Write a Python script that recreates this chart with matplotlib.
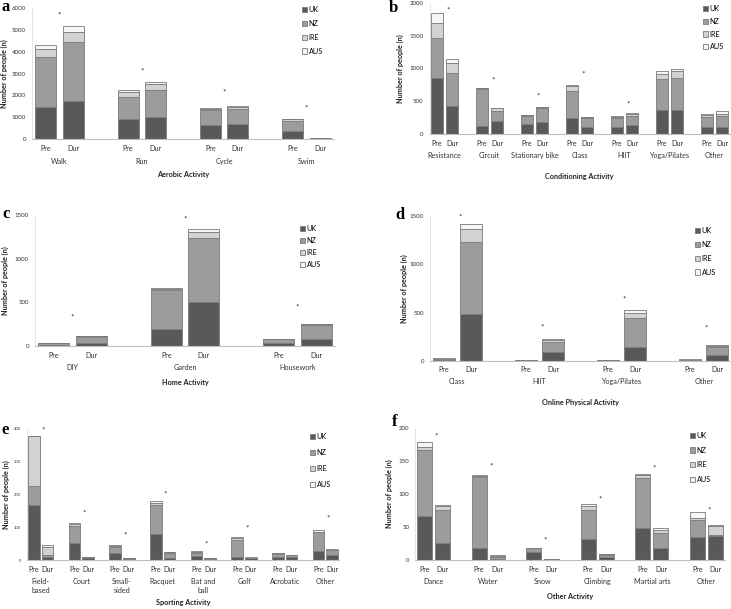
import matplotlib
matplotlib.use("Agg")
import matplotlib.pyplot as plt
from matplotlib.patches import Patch

W, H = 731, 609
plt.rcParams['font.family'] = ['Lato', 'DejaVu Sans']

countries = ["UK", "NZ", "IRE", "AUS"]
colors = ["#595959", "#9c9c9c", "#d2d2d2", "#f6f6f6"]
edge = "#7a7a7a"
phases = ["Pre", "Dur"]

# ---- panel a: Aerobic activity ----
a_cats = ["Walk", "Run", "Cycle", "Swim"]
a_pre = {"UK": [1470, 930, 650, 380], "NZ": [2290, 1010, 680, 450],
         "IRE": [370, 210, 50, 70], "AUS": [190, 100, 30, 30]}
a_dur = {"UK": [1740, 1020, 680, 20], "NZ": [2710, 1230, 700, 10],
         "IRE": [450, 260, 70, 5], "AUS": [280, 110, 70, 5]}
a_star = [5680, 3115, 2150, 1420]

# ---- panel b: Conditioning activity ----
b_cats = ["Resistance", "Circuit", "Stationary bike", "Class", "HIIT", "Yoga/Pilates", "Other"]
b_pre = {"UK": [860, 120, 150, 250, 100, 370, 100], "NZ": [610, 570, 120, 400, 150, 470, 160],
         "IRE": [230, 10, 15, 90, 15, 70, 30], "AUS": [150, 5, 5, 10, 5, 50, 20]}
b_dur = {"UK": [420, 200, 185, 100, 130, 370, 100], "NZ": [510, 150, 215, 150, 150, 490, 180],
         "IRE": [160, 40, 10, 8, 20, 100, 20], "AUS": [60, 10, 5, 2, 20, 30, 50]}
b_star = [1893, 824, 580, 916, 458, None, None]

# ---- panel c: Home activity ----
c_cats = ["DIY", "Garden", "Housework"]
c_pre = {"UK": [10, 200, 35], "NZ": [20, 440, 40], "IRE": [3, 15, 5], "AUS": [2, 5, 2]}
c_dur = {"UK": [40, 500, 85], "NZ": [60, 740, 155], "IRE": [10, 60, 10], "AUS": [5, 40, 5]}
c_star = [329, 1455, 450]

# ---- panel d: Online physical activity ----
d_cats = ["Class", "HIIT", "Yoga/Pilates", "Other"]
d_pre = {"UK": [10, 3, 3, 3], "NZ": [10, 2, 3, 4], "IRE": [5, 1, 2, 8], "AUS": [2, 1, 1, 2]}
d_dur = {"UK": [490, 90, 150, 60], "NZ": [745, 110, 300, 80], "IRE": [135, 20, 50, 15], "AUS": [50, 10, 30, 15]}
d_star = [1493, 355, 638, 338]

# ---- panel e: Sporting activity ----
e_cats = ["Field-\nbased", "Court", "Small-\nsided", "Racquet", "Bat and\nball", "Golf", "Acrobatic", "Other"]
e_pre = {"UK": [168, 52, 22, 80, 13, 10, 8, 28], "NZ": [58, 53, 18, 87, 9, 50, 10, 57],
         "IRE": [152, 5, 4, 8, 3, 8, 2, 2], "AUS": [2, 2, 1, 5, 1, 2, 1, 4]}
e_dur = {"UK": [10, 5, 3, 5, 3, 5, 8, 15], "NZ": [5, 3, 3, 15, 2, 2, 6, 15],
         "IRE": [25, 1, 1, 3, 1, 0.5, 1, 2], "AUS": [5, 1, 0.5, 2, 0, 0.5, 0.5, 1]}
e_star = [397, 143, 76, 201, 48, 97, None, 129]

# ---- panel f: Other activity ----
f_cats = ["Dance", "Water", "Snow", "Climbing", "Martial arts", "Other"]
f_pre = {"UK": [67, 18, 12, 32, 49, 35], "NZ": [99, 108, 6, 44, 76, 26],
         "IRE": [5, 2, 0.5, 6, 4, 2], "AUS": [8, 1, 0, 3, 2, 10]}
f_dur = {"UK": [26, 2, 0.5, 4, 18, 37], "NZ": [50, 2, 0.5, 3, 23, 1],
         "IRE": [6, 2, 0.5, 2, 5, 14], "AUS": [1.5, 1, 0, 0.5, 2, 1]}
f_star = [188, 143, 31, 92, 139, 76]

fig = plt.figure(figsize=(W / 100, H / 100), dpi=100)


def pt(px):
    return px * 72 / 100


def panel(box, cats, pre, dur, star, ymax, ystep, xlabel, letter, letter_xy,
          leg_xy, leg_ls, width, star_off, offs, ylab_px, ytick_fs=4.4):
    left, right, top, bottom = box
    ax = fig.add_axes([left / W, 1 - bottom / H, (right - left) / W, (bottom - top) / H])
    n = len(cats)
    for j, data in enumerate([pre, dur]):
        xs = [3 * i + j for i in range(n)]
        base = [0] * n
        for c, col in zip(countries, colors):
            ax.bar(xs, data[c], width=width, bottom=base, color=col,
                   edgecolor=edge, linewidth=0.6, zorder=2)
            base = [b + v for b, v in zip(base, data[c])]
    ax.set_xlim(-0.5, 3 * (n - 1) + 1.5)
    ax.set_ylim(0, ymax)
    ax.set_yticks(range(0, ymax + 1, ystep))
    ax.tick_params(axis='y', length=0, labelsize=ytick_fs, pad=pt(6), labelcolor="#333333")
    ax.set_xticks([])
    for s in ["top", "right"]:
        ax.spines[s].set_visible(False)
    ax.spines["bottom"].set_color("#bfbfbf")
    ax.spines["bottom"].set_linewidth(0.8)
    ax.spines["left"].set_color("#e0e0e0")
    ax.spines["left"].set_linewidth(0.6)
    tr = ax.get_xaxis_transform()
    o_pd, o_cat, o_xl = offs
    for i in range(n):
        for j, ph in enumerate(phases):
            ax.annotate(ph, xy=(3 * i + j, 0), xycoords=tr, xytext=(0, -pt(o_pd)),
                        textcoords="offset points", ha="center", va="center",
                        fontsize=5.2, color="#333333")
        ax.annotate(cats[i], xy=(3 * i + 0.5, 0), xycoords=tr, xytext=(0, -pt(o_cat - 4)),
                    textcoords="offset points", ha="center", va="top",
                    fontsize=5.2, color="#333333", linespacing=1.3)
        if star[i] is not None:
            ax.text(3 * i + star_off, star[i], "*", ha="center", va="center",
                    fontsize=6, color="#333333")
    ax.annotate(xlabel, xy=(0.5, 0), xycoords="axes fraction", xytext=(0, -pt(o_xl)),
                textcoords="offset points", ha="center", va="center",
                fontsize=5.2, fontweight="bold", color="#222222")
    ax.set_ylabel("Number of people (n)", fontsize=5.2, fontweight="bold", color="#222222")
    ax.yaxis.set_label_coords(-ylab_px / (right - left), 0.5)
    fig.text(letter_xy[0] / W, 1 - letter_xy[1] / H, letter, fontsize=12, fontweight="bold",
             family="Liberation Serif", ha="center", va="center")
    handles = [Patch(facecolor=col, edgecolor=edge, linewidth=0.6) for col in colors]
    ax.legend(handles, countries, loc="upper left",
              bbox_to_anchor=(leg_xy[0] / W, 1 - leg_xy[1] / H), bbox_transform=fig.transFigure,
              frameon=False, fontsize=5.2, handlelength=0.75, handleheight=0.75,
              handletextpad=0.2, labelspacing=leg_ls, borderpad=0, borderaxespad=0)
    return ax


panel((32, 334, 8, 139), a_cats, a_pre, a_dur, a_star, 6000, 1000, "Aerobic Activity",
      "a", (6, 7), (302, 6), 0.95, 0.77, 0.5, (9, 23, 35), 23.5)
panel((429.5, 729.5, 3, 134), b_cats, b_pre, b_dur, b_star, 2000, 500, "Conditioning Activity",
      "b", (393, 8), (703, 5), 0.8, 0.83, 0.78, (10, 22, 43), 26)
panel((35, 335, 215, 346), c_cats, c_pre, c_dur, c_star, 1500, 500, "Home Activity",
      "c", (6, 214), (300, 225), 0.68, 0.83, 0.5, (9, 22, 36), 25.5)
panel((430, 731, 216, 361), d_cats, d_pre, d_dur, d_star, 1500, 500, "Online Physical Activity",
      "d", (400, 215), (695, 227), 0.95, 0.8, 0.6, (8, 21, 41), 21.5)
panel((27, 339, 429, 560), e_cats, e_pre, e_dur, e_star, 400, 100, "Sporting Activity",
      "e", (5, 430), (310, 433), 1.25, 0.85, 0.72, (9, 22, 43), 16.5, ytick_fs=3.0)
panel((415.4, 724.6, 428, 560), f_cats, f_pre, f_dur, f_star, 200, 50, "Other Activity",
      "f", (395, 422), (690, 432), 1.05, 0.82, 0.65, (9, 22, 37), 22)

fig.savefig("out.png", dpi=100, facecolor="white")
